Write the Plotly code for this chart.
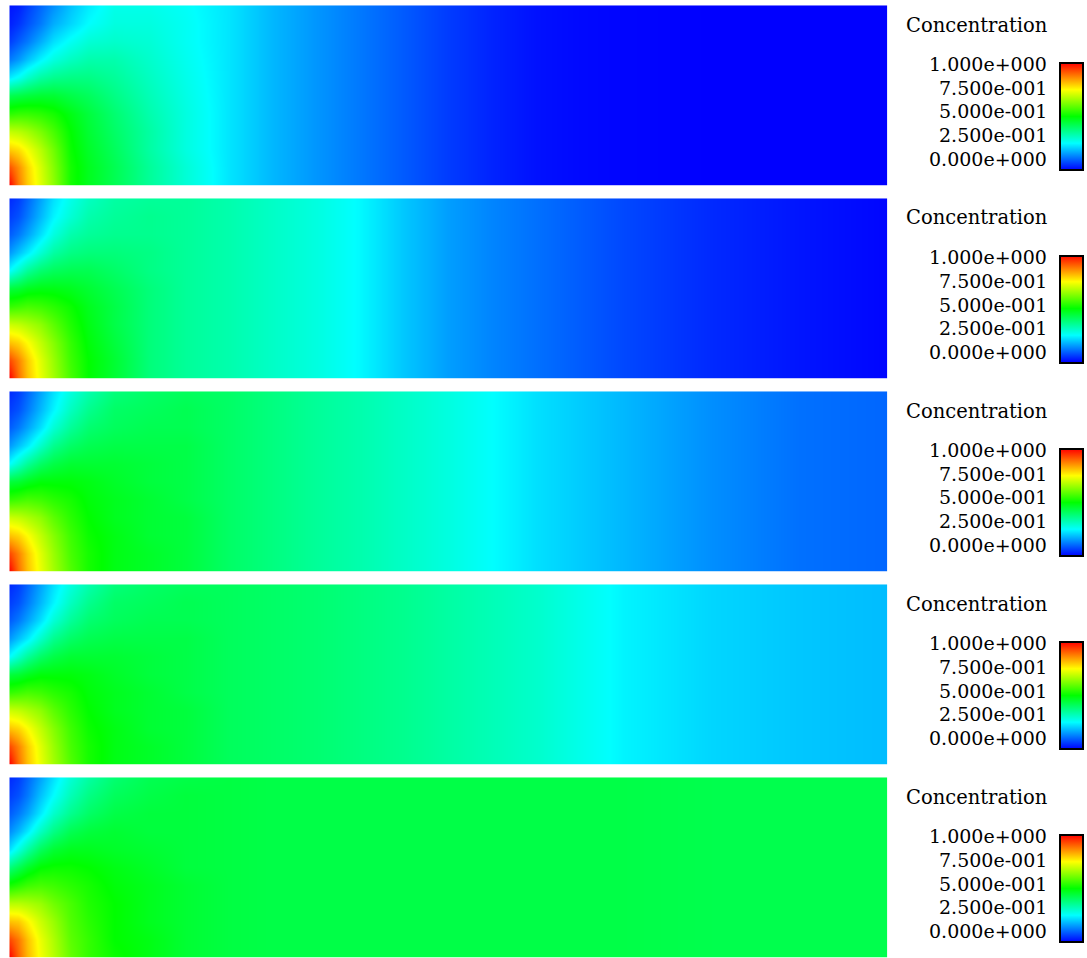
import plotly.graph_objects as go

# ---------------- data ----------------
# horizontal sample positions (fraction of domain length)
x_near = [0.0, 0.01, 0.02, 0.035, 0.05, 0.07, 0.09, 0.12, 0.16, 0.2]
x_far = [0.25, 0.3, 0.35, 0.4, 0.45, 0.5, 0.55, 0.6, 0.65, 0.7, 0.8, 0.9, 1.0]
# vertical sample positions (fraction of domain height, bottom -> top)
y_pos = [0.0, 0.1, 0.2, 0.3, 0.4, 0.5, 0.6, 0.7, 0.8, 0.9, 1.0]

# near-source concentration, rows bottom -> top, columns follow x_near
near_t1 = [
    [1.00, 0.88, 0.80, 0.72, 0.64, 0.52, 0.47, 0.42, 0.35, 0.29],
    [0.92, 0.86, 0.79, 0.71, 0.63, 0.52, 0.47, 0.42, 0.35, 0.29],
    [0.80, 0.78, 0.74, 0.68, 0.61, 0.51, 0.46, 0.41, 0.34, 0.28],
    [0.69, 0.68, 0.66, 0.62, 0.57, 0.50, 0.45, 0.40, 0.34, 0.28],
    [0.54, 0.55, 0.55, 0.54, 0.52, 0.48, 0.44, 0.39, 0.33, 0.28],
    [0.42, 0.43, 0.44, 0.45, 0.45, 0.43, 0.41, 0.37, 0.32, 0.275],
    [0.23, 0.26, 0.30, 0.34, 0.36, 0.37, 0.37, 0.35, 0.31, 0.27],
    [0.12, 0.15, 0.19, 0.24, 0.28, 0.31, 0.33, 0.33, 0.30, 0.265],
    [0.06, 0.09, 0.12, 0.17, 0.22, 0.26, 0.29, 0.30, 0.29, 0.26],
    [0.03, 0.05, 0.08, 0.12, 0.17, 0.21, 0.25, 0.28, 0.28, 0.26],
    [0.02, 0.03, 0.06, 0.10, 0.14, 0.19, 0.23, 0.27, 0.27, 0.255],
]
near_t2 = [
    [1.00, 0.89, 0.81, 0.73, 0.66, 0.57, 0.50, 0.45, 0.38, 0.35],
    [0.93, 0.87, 0.80, 0.72, 0.65, 0.56, 0.50, 0.45, 0.38, 0.35],
    [0.81, 0.79, 0.75, 0.69, 0.63, 0.55, 0.49, 0.44, 0.38, 0.35],
    [0.70, 0.69, 0.67, 0.64, 0.59, 0.53, 0.48, 0.43, 0.38, 0.35],
    [0.55, 0.56, 0.57, 0.56, 0.54, 0.51, 0.47, 0.43, 0.38, 0.35],
    [0.44, 0.45, 0.47, 0.48, 0.48, 0.47, 0.45, 0.42, 0.38, 0.35],
    [0.25, 0.30, 0.35, 0.39, 0.41, 0.42, 0.42, 0.40, 0.37, 0.35],
    [0.15, 0.19, 0.23, 0.29, 0.34, 0.37, 0.38, 0.38, 0.37, 0.35],
    [0.09, 0.12, 0.16, 0.22, 0.28, 0.33, 0.35, 0.36, 0.36, 0.35],
    [0.06, 0.08, 0.12, 0.18, 0.24, 0.29, 0.33, 0.35, 0.36, 0.35],
    [0.04, 0.06, 0.10, 0.16, 0.22, 0.27, 0.31, 0.34, 0.35, 0.35],
]
near_t3 = [
    [1.00, 0.89, 0.81, 0.73, 0.66, 0.58, 0.52, 0.48, 0.46, 0.44],
    [0.93, 0.87, 0.80, 0.72, 0.65, 0.57, 0.52, 0.48, 0.46, 0.44],
    [0.81, 0.79, 0.75, 0.69, 0.63, 0.56, 0.51, 0.48, 0.45, 0.44],
    [0.70, 0.69, 0.67, 0.64, 0.59, 0.54, 0.50, 0.47, 0.45, 0.44],
    [0.55, 0.56, 0.57, 0.56, 0.54, 0.52, 0.49, 0.47, 0.45, 0.43],
    [0.44, 0.45, 0.47, 0.49, 0.49, 0.49, 0.48, 0.46, 0.44, 0.43],
    [0.25, 0.30, 0.35, 0.40, 0.43, 0.45, 0.45, 0.45, 0.44, 0.43],
    [0.15, 0.19, 0.23, 0.30, 0.36, 0.40, 0.42, 0.43, 0.43, 0.43],
    [0.09, 0.12, 0.16, 0.22, 0.29, 0.35, 0.39, 0.41, 0.42, 0.42],
    [0.06, 0.08, 0.12, 0.18, 0.24, 0.31, 0.36, 0.40, 0.41, 0.42],
    [0.04, 0.06, 0.10, 0.16, 0.22, 0.28, 0.33, 0.38, 0.40, 0.41],
]
near_t4 = [
    [1.00, 0.89, 0.81, 0.73, 0.66, 0.58, 0.52, 0.48, 0.46, 0.44],
    [0.93, 0.87, 0.80, 0.72, 0.65, 0.57, 0.52, 0.48, 0.46, 0.44],
    [0.81, 0.79, 0.75, 0.69, 0.63, 0.56, 0.51, 0.48, 0.45, 0.44],
    [0.70, 0.69, 0.67, 0.64, 0.59, 0.54, 0.50, 0.47, 0.45, 0.44],
    [0.55, 0.56, 0.57, 0.56, 0.54, 0.52, 0.49, 0.47, 0.45, 0.43],
    [0.44, 0.45, 0.47, 0.49, 0.49, 0.49, 0.48, 0.46, 0.44, 0.43],
    [0.25, 0.30, 0.35, 0.40, 0.43, 0.45, 0.45, 0.45, 0.44, 0.43],
    [0.15, 0.19, 0.23, 0.30, 0.36, 0.40, 0.42, 0.43, 0.43, 0.43],
    [0.09, 0.12, 0.16, 0.22, 0.29, 0.35, 0.39, 0.41, 0.42, 0.42],
    [0.06, 0.08, 0.12, 0.18, 0.24, 0.31, 0.36, 0.40, 0.41, 0.42],
    [0.04, 0.06, 0.10, 0.16, 0.22, 0.28, 0.33, 0.38, 0.40, 0.41],
]
near_t5 = [
    [1.00, 0.90, 0.82, 0.74, 0.68, 0.60, 0.55, 0.51, 0.48, 0.45],
    [0.93, 0.88, 0.81, 0.73, 0.67, 0.59, 0.55, 0.50, 0.48, 0.45],
    [0.81, 0.80, 0.76, 0.70, 0.65, 0.58, 0.54, 0.50, 0.47, 0.45],
    [0.68, 0.68, 0.67, 0.65, 0.61, 0.57, 0.53, 0.50, 0.47, 0.45],
    [0.52, 0.54, 0.56, 0.57, 0.56, 0.54, 0.52, 0.49, 0.47, 0.45],
    [0.38, 0.42, 0.46, 0.50, 0.51, 0.51, 0.50, 0.48, 0.46, 0.44],
    [0.22, 0.28, 0.34, 0.41, 0.45, 0.47, 0.47, 0.46, 0.45, 0.44],
    [0.14, 0.18, 0.23, 0.31, 0.37, 0.42, 0.44, 0.45, 0.44, 0.44],
    [0.09, 0.12, 0.16, 0.23, 0.30, 0.36, 0.40, 0.43, 0.44, 0.44],
    [0.06, 0.08, 0.12, 0.19, 0.25, 0.32, 0.37, 0.41, 0.43, 0.44],
    [0.04, 0.06, 0.10, 0.16, 0.22, 0.29, 0.34, 0.39, 0.42, 0.43],
]

# far-field concentration profile (same at every height), follows x_far
far_t1 = [0.225, 0.18, 0.147, 0.118, 0.088, 0.058, 0.034, 0.016, 0.008, 0.004, 0.0, 0.0, 0.0]
far_t2 = [0.33, 0.305, 0.28, 0.245, 0.195, 0.155, 0.13, 0.11, 0.09, 0.07, 0.04, 0.02, 0.005]
far_t3 = [0.40, 0.375, 0.35, 0.33, 0.305, 0.28, 0.25, 0.22, 0.20, 0.18, 0.14, 0.11, 0.10]
far_t4 = [0.41, 0.40, 0.39, 0.375, 0.36, 0.34, 0.32, 0.30, 0.27, 0.24, 0.21, 0.195, 0.185]
far_t5 = [0.435, 0.43, 0.43, 0.43, 0.43, 0.43, 0.43, 0.43, 0.43, 0.43, 0.425, 0.425, 0.425]

legend_title = "Concentration"
tick_labels = ["1.000e+000", "7.500e-001", "5.000e-001", "2.500e-001", "0.000e+000"]

# ---------------- figure ----------------
W, H = 1087, 958
panels = [(near_t1, far_t1), (near_t2, far_t2), (near_t3, far_t3),
          (near_t4, far_t4), (near_t5, far_t5)]

rainbow = [[0.0, "rgb(0,0,255)"], [0.25, "rgb(0,255,255)"], [0.5, "rgb(0,255,0)"],
           [0.75, "rgb(255,255,0)"], [1.0, "rgb(255,0,0)"]]

x_all = x_near + x_far
fig = go.Figure()
layout = dict(width=W, height=H, margin=dict(l=0, r=0, t=0, b=0),
              paper_bgcolor="white", plot_bgcolor="white", showlegend=False)
annotations = []

left_px, right_px = 9.3, 887.3
top0, ph, step = 5.3, 180.4, 193.0
FONT = "DejaVu Serif, Liberation Serif, serif"

for i, (near, far) in enumerate(panels):
    z = [row + far for row in near]
    n = "" if i == 0 else str(i + 1)
    top = top0 + step * i
    bot = top + ph
    cb_top = 62.5 + step * i
    fig.add_trace(go.Heatmap(
        x=x_all, y=y_pos, z=z, zsmooth="best", colorscale=rainbow,
        zmin=0, zmax=1, xaxis="x" + n, yaxis="y" + n, hoverinfo="skip",
        colorbar=dict(x=1060 / W, xanchor="left", y=1 - cb_top / H, yanchor="top",
                      len=107, lenmode="pixels", thickness=23, thicknessmode="pixels",
                      xpad=0, ypad=0, outlinewidth=2, outlinecolor="black",
                      showticklabels=False, ticks="")))
    layout["xaxis" + n] = dict(domain=[left_px / W, right_px / W], range=[0, 1],
                               visible=False, anchor="y" + n, fixedrange=True)
    layout["yaxis" + n] = dict(domain=[1 - bot / H, 1 - top / H], range=[0, 1],
                               visible=False, anchor="x" + n, fixedrange=True)
    annotations.append(dict(text=legend_title, xref="paper", yref="paper",
                            x=1049 / W, y=1 - (25 + step * i) / H, borderpad=0,
                            xanchor="right", yanchor="middle", showarrow=False,
                            font=dict(family=FONT, size=19.5, color="black")))
    for k, lab in enumerate(tick_labels):
        annotations.append(dict(text=lab, xref="paper", yref="paper", borderpad=0,
                                x=1048 / W, y=1 - (64 + 23.75 * k + step * i) / H,
                                xanchor="right", yanchor="middle", showarrow=False,
                                font=dict(family=FONT, size=19, color="black")))

layout["annotations"] = annotations
fig.update_layout(**layout)
fig.write_html("out.html", config={"displayModeBar": False},
               post_script="document.body.style.margin='0px';")
